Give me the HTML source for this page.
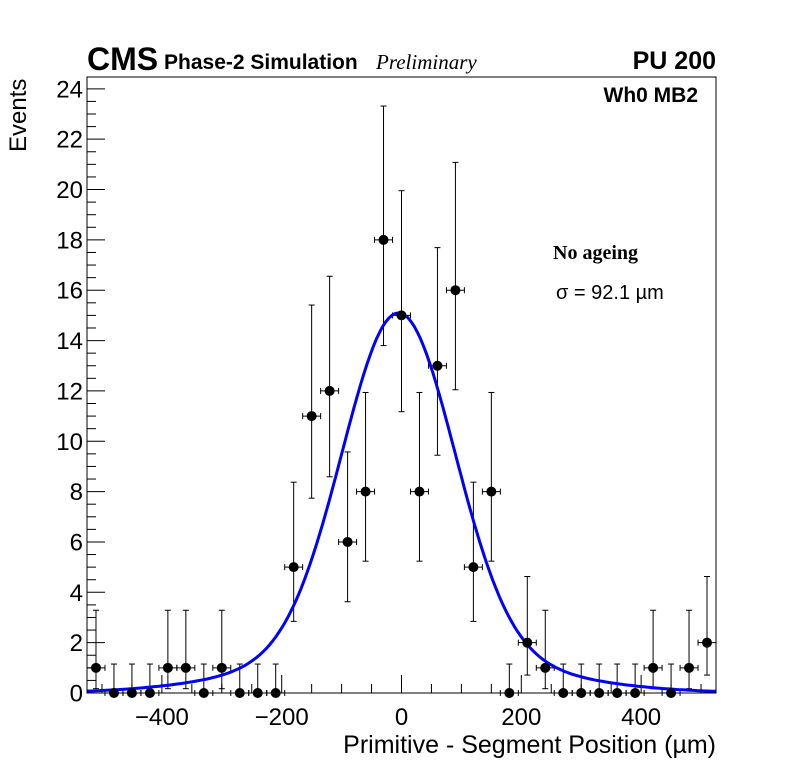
<!DOCTYPE html>
<html><head><meta charset="utf-8"><style>
body{margin:0;background:#fff;}
svg{display:block;font-family:"Liberation Sans",sans-serif;}
</style></head><body>
<svg id="chart" width="796" height="772" viewBox="0 0 796 772" xmlns="http://www.w3.org/2000/svg">
<rect x="0" y="0" width="796" height="772" fill="#fff"/>
<g id="axes"></g>
<g id="errs"></g>
<g id="fit"></g>
<g id="pts"></g>
<rect x="87" y="77" width="629" height="616" fill="none" stroke="#000" stroke-width="1"/>
<text x="87" y="70" font-size="32" font-weight="bold">CMS</text>
<text x="164" y="69" font-size="21" font-weight="bold">Phase-2 Simulation</text>
<text x="376" y="69" font-size="21" font-style="italic" font-family="Liberation Serif, serif">Preliminary</text>
<text x="716" y="69" font-size="25" font-weight="bold" text-anchor="end">PU 200</text>
<text x="698" y="102" font-size="21" font-weight="bold" text-anchor="end">Wh0 MB2</text>
<text x="553" y="259" font-size="20" font-weight="bold" font-family="Liberation Serif, serif">No ageing</text>
<text x="556" y="299" font-size="20">σ = 92.1 µm</text>
<text x="716" y="753" font-size="25" text-anchor="end">Primitive - Segment Position (µm)</text>
<text transform="translate(26,152) rotate(-90)" font-size="24" text-anchor="start">Events</text>
</svg>
<script>
const binCenters=[-510,-480,-450,-420,-390,-360,-330,-300,-270,-240,-210,-180,-150,-120,-90,-60,-30,0,30,60,90,120,150,180,210,240,270,300,330,360,390,420,450,480,510];
const counts=[1,0,0,0,1,1,0,1,0,0,0,5,11,12,6,8,18,15,8,13,16,5,8,0,2,1,0,0,0,0,0,1,0,1,2];
const xTicks=[-400,-200,0,200,400];
const xTickLabels=["\u2212400","\u2212200","0","200","400"];
const yTicks=[0,2,4,6,8,10,12,14,16,18,20,22,24];
const fitParams=[13.4,-5,93,1.7,208];
const NS="http://www.w3.org/2000/svg";
const X0=87,X1=716,Y0=693,Y1=77,xmin=-525,xmax=525,ymin=0,ymax=24.47;
function sx(v){return X0+(v-xmin)/(xmax-xmin)*(X1-X0);}
function sy(v){return Y0-(v-ymin)/(ymax-ymin)*(Y0-Y1);}
function mk(tag,attrs,parent){const e=document.createElementNS(NS,tag);for(const k in attrs)e.setAttribute(k,attrs[k]);parent.appendChild(e);return e;}
const axes=document.getElementById('axes');
for(let v=-500;v<=500;v+=50){
  const major=v%200===0;
  const t=mk('line',{x1:sx(v),x2:sx(v),y1:Y0,y2:Y0-(major?18:9),stroke:'#000','stroke-width':1},axes);
  
  
}
xTicks.forEach((v,i)=>{
  const t=mk('text',{x:sx(v),y:725,'font-size':24,'text-anchor':'middle'},axes);
  t.textContent=xTickLabels[i];
  
  
});
for(let v=0;v<=24.4;v+=0.5){
  const major=Math.abs(v%2)<1e-6;
  const t=mk('line',{x1:X0,x2:X0+(major?18:9),y1:sy(v),y2:sy(v),stroke:'#000','stroke-width':1},axes);
  
  
}
yTicks.forEach(v=>{
  const t=mk('text',{x:83,y:sy(v)+8.5,'font-size':24,'text-anchor':'end'},axes);
  t.textContent=String(v);
  
  
});
function up(n){const m=n+1;return m*Math.pow(1-1/(9*m)+1/(3*Math.sqrt(m)),3);}
function lo(n){if(n===0)return 0;return n*Math.pow(1-1/(9*n)-1/(3*Math.sqrt(n)),3);}
const errs=document.getElementById('errs'),pts=document.getElementById('pts');
binCenters.forEach((c,i)=>{
  const n=counts[i];
  const u=n===0?1.15:up(n),l=lo(n);
  const x=sx(c),y=sy(n);
  const g=mk('g',{stroke:'#000','stroke-width':1},errs);
  
  
  mk('line',{x1:x,x2:x,y1:sy(u),y2:Math.min(sy(l),Y0)},g);
  mk('line',{x1:x-3,x2:x+3,y1:sy(u),y2:sy(u)},g);
  if(n>0)mk('line',{x1:x-3,x2:x+3,y1:sy(l),y2:sy(l)},g);
  mk('line',{x1:sx(c-15),x2:sx(c+15),y1:y,y2:y},g);
  mk('line',{x1:sx(c-15),x2:sx(c-15),y1:y-3,y2:y+3},g);
  mk('line',{x1:sx(c+15),x2:sx(c+15),y1:y-3,y2:y+3},g);
  const p=mk('circle',{cx:x,cy:y,r:5,fill:'#000'},pts);
  
  
});
const [A1,mu,s1,A2,s2]=fitParams;
let d='';
for(let i=0;i<=200;i++){
  const v=xmin+(xmax-xmin)*i/200;
  const f=A1*Math.exp(-0.5*((v-mu)/s1)**2)+A2*Math.exp(-0.5*((v-mu)/s2)**2);
  d+=(i?'L':'M')+sx(v).toFixed(1)+','+sy(f).toFixed(1);
}
const fp=mk('path',{d:d,fill:'none',stroke:'#0000ff','stroke-width':3},document.getElementById('fit'));


</script>
</body></html>
